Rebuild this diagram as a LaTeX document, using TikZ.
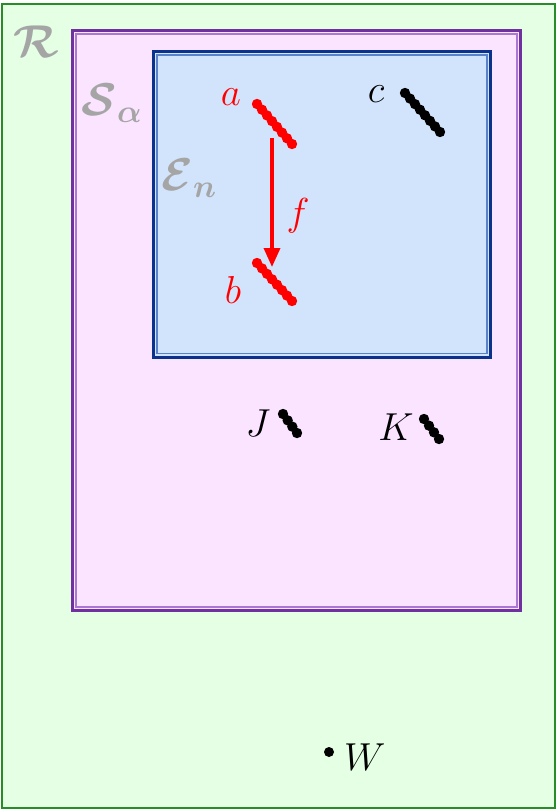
\RequirePackage{fix-cm}
\documentclass[tikz,border=0pt]{standalone}
\usepackage{amsmath,bm}
\usetikzlibrary{arrows.meta,calc}
\definecolor{bggreen}{RGB}{228,255,228}
\definecolor{edgegreen}{RGB}{40,140,40}
\definecolor{pinkfill}{RGB}{251,228,255}
\definecolor{purpedge}{RGB}{112,48,160}
\definecolor{purplight}{RGB}{170,120,210}
\definecolor{bluefill}{RGB}{210,228,252}
\definecolor{blueedge}{RGB}{10,50,140}
\definecolor{bluelight}{RGB}{90,130,200}
\definecolor{lblgray}{RGB}{165,165,165}
\definecolor{myred}{RGB}{255,0,0}
\tikzset{
  setlabel/.style={text=lblgray, font=\fontsize{46}{50}\selectfont, inner sep=0pt},
  ptlabel/.style={font=\fontsize{39}{43}\selectfont, inner sep=0pt},
  pdot/.style={circle, fill, inner sep=0pt, minimum size=10pt},
}
\newcommand{\dotchain}[4]{% start, end, count, color
  \foreach \i in {0,...,#3}{
    \fill[#4] ($(#1)!\i/#3!(#2)$) circle (5.2pt);
  }
}
\begin{document}
\begin{tikzpicture}[x=1pt,y=-1pt]
\useasboundingbox (0,0) rectangle (557,811);
% outer region R
\draw[edgegreen, line width=1.6pt, fill=bggreen] (2,4) rectangle (555,808);
% S_alpha
\draw[purpedge, line width=3pt, fill=pinkfill] (72.5,30.5) rectangle (520.5,610.5);
\draw[purplight, line width=1.2pt] (76,34) rectangle (517,607);
% E_n
\draw[blueedge, line width=3pt, fill=bluefill] (153.5,51.5) rectangle (490.5,357);
\draw[bluelight, line width=1.4pt] (157,55) rectangle (487,353.5);
% set labels
\node[setlabel] (lR) at (36,42) {$\bm{\mathcal{R}}$};
\node[setlabel] (lS) at (112,103) {$\bm{\mathcal{S}_{\alpha}}$};
\node[setlabel] (lE) at (189,178) {$\bm{\mathcal{E}_{n}}$};
% chains
\coordinate (a1) at (257,104); \coordinate (a2) at (292,144);
\coordinate (b1) at (257,263); \coordinate (b2) at (292,301);
\coordinate (c1) at (405,93);  \coordinate (c2) at (440,132);
\coordinate (j1) at (283,414); \coordinate (j2) at (297,433);
\coordinate (k1) at (424,419); \coordinate (k2) at (439,439);
\dotchain{a1}{a2}{7}{myred}
\dotchain{b1}{b2}{7}{myred}
\dotchain{c1}{c2}{7}{black}
\dotchain{j1}{j2}{3}{black}
\dotchain{k1}{k2}{3}{black}
\node[pdot] (w) at (329,752) {};
% point labels
\node[ptlabel, text=myred] (la) at (231,97) {$a$};
\node[ptlabel, text=myred] (lb) at (233,290) {$b$};
\node[ptlabel] (lc) at (376,94) {$c$};
\node[ptlabel] (lJ) at (258,423) {$J$};
\node[ptlabel] (lK) at (396,427) {$K$};
\node[ptlabel, anchor=west] (lW) at (344,757) {$W$};
% arrow f
\coordinate (fs) at (272,138);
\coordinate (fe) at (272,267);
\draw[myred, line width=3.5pt, -{Triangle[length=19pt,width=16pt]}] (fs) -- (fe);
\node[ptlabel, text=myred] (lf) at (298,216) {$f$};
\end{tikzpicture}
\end{document}
